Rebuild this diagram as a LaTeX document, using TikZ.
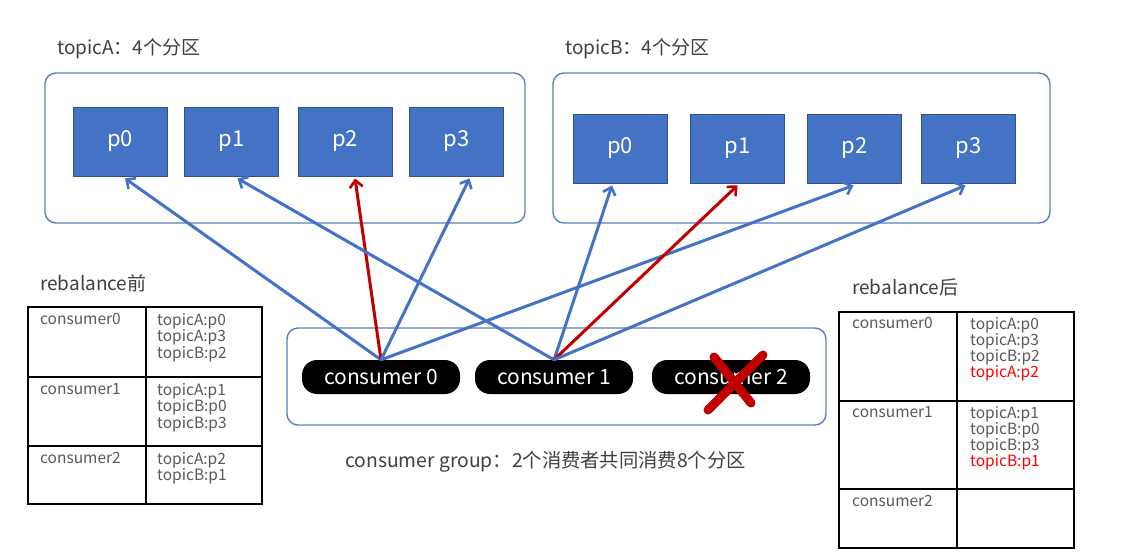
\documentclass[tikz,border=0pt]{standalone}
\usepackage{fontspec}
\setmainfont{Noto Sans CJK SC}
\usetikzlibrary{arrows.meta,calc}
\definecolor{pblue}{HTML}{4472C4}
\definecolor{pborder}{HTML}{2F528F}
\definecolor{gborder}{HTML}{5B7EBD}
\definecolor{ared}{HTML}{C00000}
\definecolor{tgray}{HTML}{595959}
\definecolor{lgray}{HTML}{404040}
\begin{document}
\begin{tikzpicture}[x=1pt,y=-1pt,
  part/.style={draw=pborder,fill=pblue,line width=0.8pt,minimum width=94pt,minimum height=69pt,
    text=white,font=\fontsize{22}{24}\selectfont,inner sep=0pt},
  grp/.style={draw=gborder,line width=1.4pt,rounded corners=11pt,inner sep=0pt},
  pill/.style={fill=black,rounded corners=15pt,minimum width=158pt,minimum height=34pt,
    text=white,font=\fontsize{21}{23}\selectfont,inner sep=0pt},
  lbl/.style={anchor=west,text=lgray,font=\fontsize{19}{21}\selectfont,inner sep=0pt},
  cell/.style={anchor=north west,text=tgray,align=left,font=\fontsize{15.5}{15.2}\selectfont,inner sep=0pt},
  tbl/.style={draw=black,line width=1.3pt},
  barrow/.style={draw=pblue,line width=3pt,-{Straight Barb[length=7pt,width=13pt,line width=2.6pt]}},
  rarrow/.style={draw=ared,line width=3pt,-{Straight Barb[length=7pt,width=13pt,line width=2.6pt]}}
]
\useasboundingbox (0,0) rectangle (1123,558);
\fill[white] (0,0) rectangle (1123,558);

% topic group boxes
\node[grp,minimum width=480pt,minimum height=150pt] (ga) at (285,148) {};
\node[grp,minimum width=497pt,minimum height=150pt] (gb) at (801.5,148) {};
\node[lbl] (la) at (57,49) {topicA：4个分区};
\node[lbl] (lb) at (565,49) {topicB：4个分区};

% partitions
\node[part] (a0) at (120,141.5) {p0};
\node[part] (a1) at (231.5,141.5) {p1};
\node[part] (a2) at (345,141.5) {p2};
\node[part] (a3) at (456.5,141.5) {p3};
\node[part] (b0) at (620,148.5) {p0};
\node[part] (b1) at (737.5,148.5) {p1};
\node[part] (b2) at (854.5,148.5) {p2};
\node[part] (b3) at (968.5,148.5) {p3};

% consumer group
\node[grp,minimum width=539pt,minimum height=97pt] (cg) at (556.5,376.5) {};
\node[pill] (c0) at (381,377) {consumer 0};
\node[pill] (c1) at (554,377) {consumer 1};
\node[pill] (c2) at (731,377) {consumer 2};
\node[lbl,font=\fontsize{19.3}{21}\selectfont] (cgl) at (345,462) {consumer group：2个消费者共同消费8个分区};

% arrows
\draw[barrow] (c0.north) -- ($(a0.south)+(5,2)$);
\draw[rarrow] (c0.north) -- ($(a2.south)+(10,2)$);
\draw[barrow] (c0.north) -- ($(a3.south)+(13,2)$);
\draw[barrow] (c0.north) -- ($(b2.south)+(-1,2)$);
\draw[barrow] (c1.north) -- ($(a1.south)+(6,2)$);
\draw[barrow] (c1.north) -- ($(b0.south)+(-8,2)$);
\draw[rarrow] (c1.north) -- ($(b1.south)+(0,2)$);
\draw[barrow] (c1.north) -- ($(b3.south)+(-3,2)$);

% red X over consumer 2
\draw[ared,line width=9pt,line cap=round] (708,410) -- (763,355);
\draw[ared,line width=9pt,line cap=round] (714,357) -- (751,403);

% left table
\node[lbl] (lt) at (40,283) {rebalance前};
\draw[tbl] (28,307) rectangle (262,504);
\draw[tbl] (146,307) -- (146,504);
\draw[tbl] (28,377) -- (262,377);
\draw[tbl] (28,446) -- (262,446);
\node[cell] (l00) at (40,313) {consumer0};
\node[cell] (l01) at (157,313) {topicA:p0\\topicA:p3\\topicB:p2};
\node[cell] (l10) at (40,383) {consumer1};
\node[cell] (l11) at (157,383) {topicA:p1\\topicB:p0\\topicB:p3};
\node[cell] (l20) at (40,452) {consumer2};
\node[cell] (l21) at (157,452) {topicA:p2\\topicB:p1};

% right table
\node[lbl] (rt) at (852,287) {rebalance后};
\draw[tbl] (839,312) rectangle (1074,548);
\draw[tbl] (957,312) -- (957,548);
\draw[tbl] (839,401) -- (1074,401);
\draw[tbl] (839,489) -- (1074,489);
\node[cell] (r00) at (852,317) {consumer0};
\node[cell,font=\fontsize{15.5}{16.2}\selectfont] (r01) at (970,317) {topicA:p0\\topicA:p3\\topicB:p2\\\textcolor{red}{topicA:p2}};
\node[cell] (r10) at (852,406) {consumer1};
\node[cell,font=\fontsize{15.5}{16.2}\selectfont] (r11) at (970,406) {topicA:p1\\topicB:p0\\topicB:p3\\\textcolor{red}{topicB:p1}};
\node[cell] (r20) at (852,495) {consumer2};
\end{tikzpicture}
\end{document}
